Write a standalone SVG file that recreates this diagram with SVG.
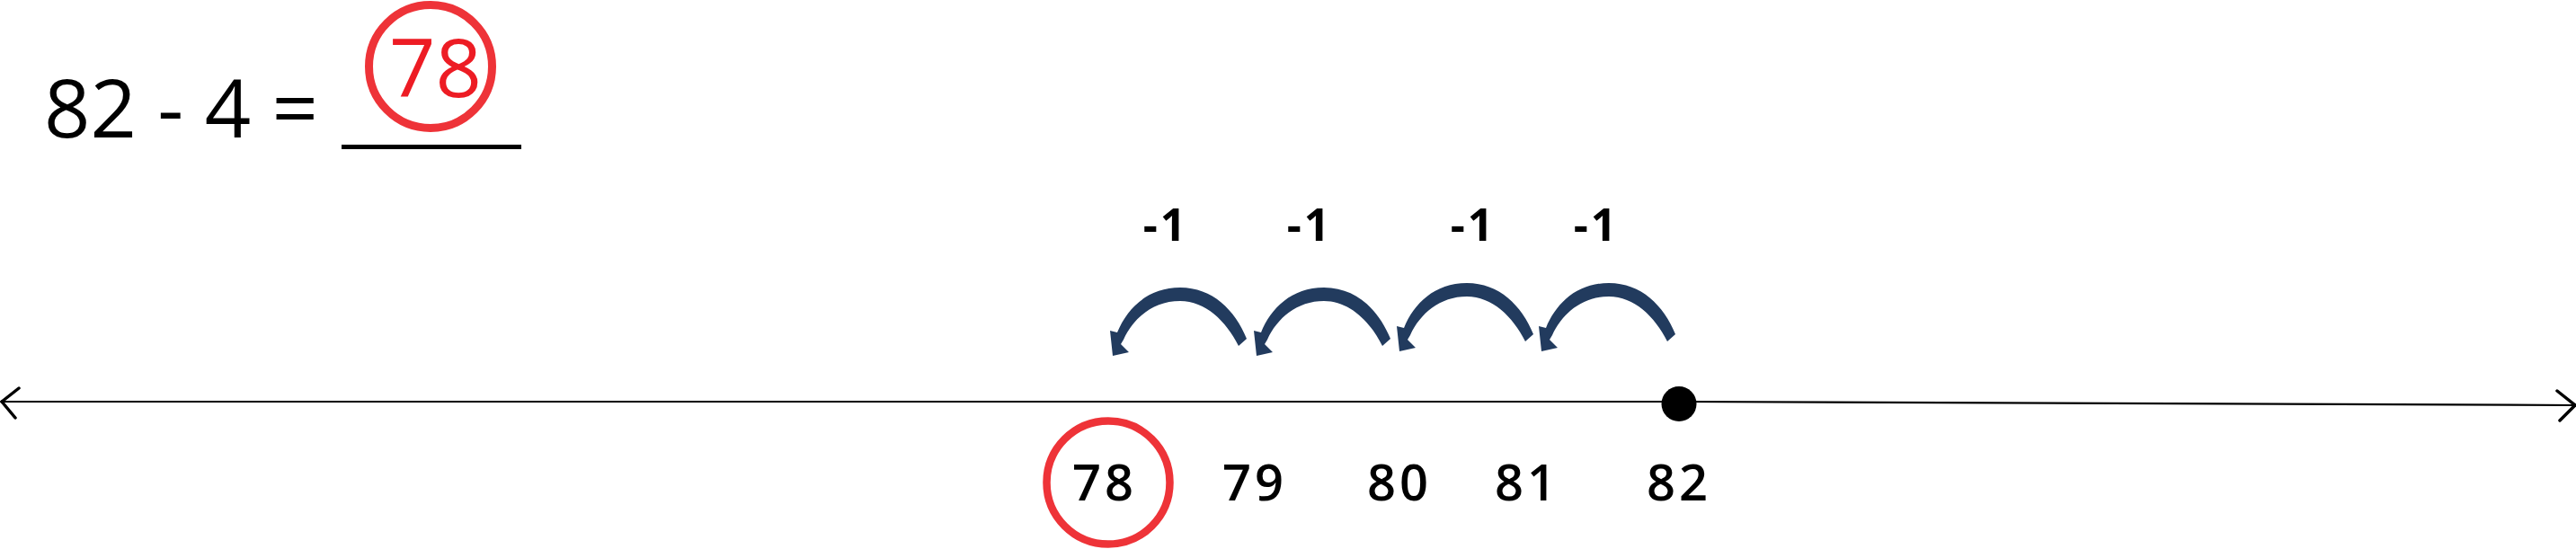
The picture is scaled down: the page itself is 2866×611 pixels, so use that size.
<svg xmlns="http://www.w3.org/2000/svg" width="2866" height="611" viewBox="0 0 2866 611">
<style>
.eq{font-family:"Open Sans","Liberation Sans",sans-serif;font-size:90px;fill:#000}
.ans{font-family:"Open Sans","Liberation Sans",sans-serif;font-size:90px;fill:#ED1C24}
.ring{fill:none;stroke:#EE3338;stroke-width:9}
.lbl{font-family:"Open Sans","Liberation Sans",sans-serif;font-size:56px;font-weight:600;fill:#000;text-anchor:middle;letter-spacing:4px}
.step{font-family:"Open Sans","Liberation Sans",sans-serif;font-size:50px;font-weight:700;fill:#000;text-anchor:middle;letter-spacing:3px}
.jump{fill:#223B5E}
.axis{fill:none;stroke:#000;stroke-width:2.2}
.barb{stroke:#000;stroke-width:3.5;stroke-linecap:round}
</style>
<defs>
<path id="hop" d="M 74,56 C 61,24 36,-1 0,-1 C -36,-1 -59,22 -70,49 L -78,47 L -75,75 L -57,71 L -66,62 L -63,57 C -52,33 -30,14 0,14 C 28,14 51,36 65,64 Z"/>
</defs>
<g id="equation">
<text class="eq" x="49" y="153">82 - 4 =</text>
<rect x="380" y="161" width="200" height="5" fill="#000"/>
</g>
<g id="answer">
<circle class="ring" cx="479" cy="74" r="68.5"/>
<text class="ans" x="433" y="108">78</text>
</g>
<g id="number-line">
<polyline class="axis" points="2,447 1870,447 2865,451"/>
<line class="barb" x1="2" y1="447" x2="21" y2="432"/>
<line class="barb" x1="2" y1="447" x2="17" y2="465"/>
<line class="barb" x1="2865" y1="451" x2="2845" y2="435"/>
<line class="barb" x1="2865" y1="451" x2="2848" y2="468"/>
</g>
<g id="start-point">
<circle cx="1868" cy="449.5" r="19.5" fill="#000"/>
</g>
<g id="label-78">
<circle cx="1233" cy="537" r="68.5" fill="none" stroke="#EE3338" stroke-width="8.5"/>
<text class="lbl" x="1229" y="557">78</text>
</g>
<g id="label-79"><text class="lbl" x="1396" y="557">79</text></g>
<g id="label-80"><text class="lbl" x="1557" y="557">80</text></g>
<g id="label-81"><text class="lbl" x="1699" y="557">81</text></g>
<g id="label-82"><text class="lbl" x="1868" y="557">82</text></g>
<g id="step-labels">
<text class="step" x="1297" y="268">-1</text>
<text class="step" x="1457" y="268">-1</text>
<text class="step" x="1639" y="268">-1</text>
<text class="step" x="1776" y="268">-1</text>
</g>
<g id="connectors">
<use href="#hop" class="jump" transform="translate(1313,321)"/>
<use href="#hop" class="jump" transform="translate(1473,321)"/>
<use href="#hop" class="jump" transform="translate(1632,316)"/>
<use href="#hop" class="jump" transform="translate(1790,316)"/>
</g>
</svg>
